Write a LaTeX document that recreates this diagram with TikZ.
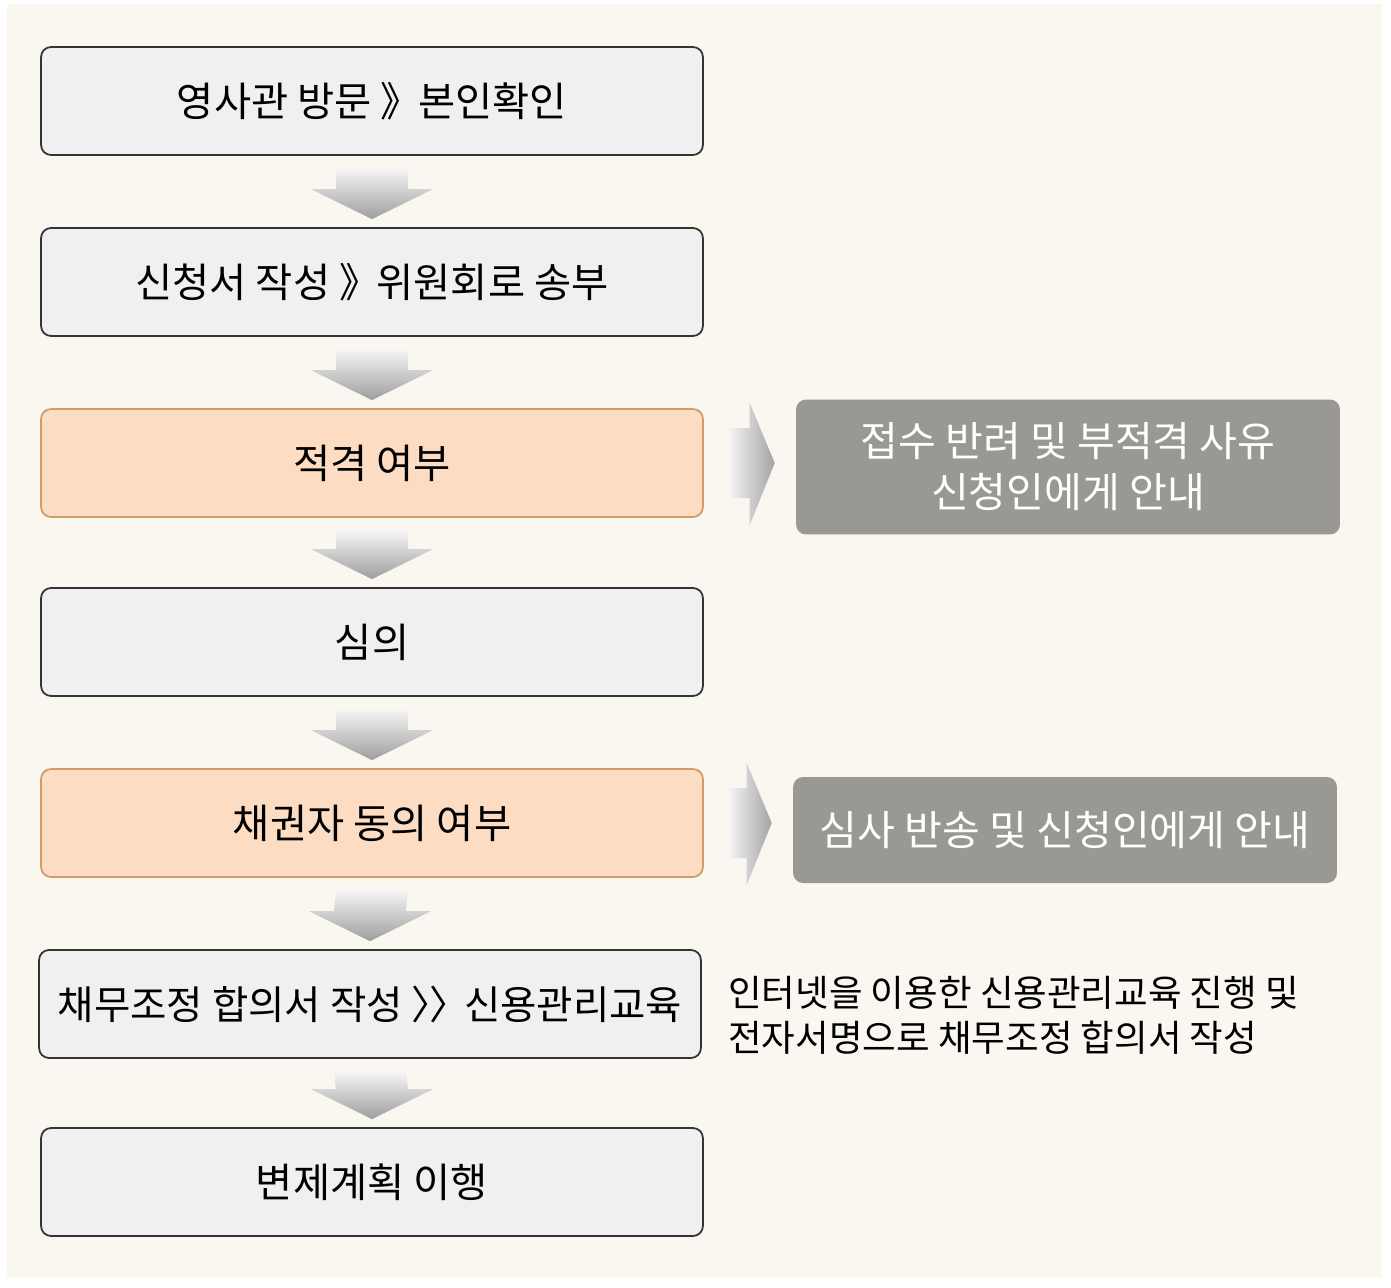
\documentclass[tikz,border=0pt]{standalone}
\usepackage{fontspec}
\setmainfont{Noto Sans CJK KR}
\usetikzlibrary{calc}
\definecolor{paper}{HTML}{FAF7F0}
\definecolor{boxgray}{HTML}{F0F0F0}
\definecolor{peach}{HTML}{FCDCC2}
\definecolor{peachline}{HTML}{D09A6A}
\definecolor{darkbox}{HTML}{999893}

\begin{document}
\begin{tikzpicture}[x=0.02cm, y=-0.02cm]
	\useasboundingbox (0,0) rectangle (1391,1287);
	\fill[paper] (7,4) rectangle (1382,1278);
	\tikzstyle{every node} = [font=\fontsize{23}{28}\selectfont, inner sep=0pt]
	\tikzstyle{stepbox} = [rectangle, rounded corners=0.2cm, draw=black!80, line width=1pt, fill=boxgray, minimum width=13.24cm, minimum height=2.16cm]
	\tikzstyle{checkbox} = [stepbox, draw=peachline, fill=peach]
	\tikzstyle{resultbox} = [rectangle, rounded corners=0.2cm, fill=darkbox, text=white, minimum width=10.88cm, align=center, font=\fontsize{23.4}{29}\selectfont]
	\tikzstyle{note} = [anchor=west, align=left, font=\fontsize{20.8}{25.5}\selectfont]
	\tikzstyle{fatdown} = [top color=white!96!black, bottom color=black!38]
	\tikzstyle{fatright} = [left color=white!96!black, right color=black!36]
	\node[stepbox] (1) at (372, 101) {영사관 방문 》\hspace{-0.3em} 본인확인};
	\node[stepbox] (2) at (372, 282) {신청서 작성 》\hspace{-0.3em} 위원회로 송부};
	\node[checkbox] (3) at (372, 463) {적격 여부};
	\node[stepbox] (4) at (372, 642) {심의};
	\node[checkbox] (5) at (372, 823) {채권자 동의 여부};
	\node[stepbox, font=\fontsize{22.5}{28}\selectfont] (6) at (370, 1004) {채무조정 합의서 작성 〉\hspace{-0.55em}〉\hspace{-0.35em} 신용관리교육};
	\node[stepbox] (7) at (372, 1182) {변제계획 이행};
	\node[resultbox, minimum height=2.7cm] (8) at (1068, 467) {접수 반려 및 부적격 사유\\신청인에게 안내};
	\node[resultbox, minimum height=2.12cm] (9) at (1065, 830) {심사 반송 및 신청인에게 안내};
	\node[note] (10) at (728, 1015) {인터넷을 이용한 신용관리교육 진행 및\\전자서명으로 채무조정 합의서 작성};
	\shade[fatdown] ($(1.south)+(-36,13)$) -- ($(1.south)+(36,13)$) -- ($(2.north)+(36,-38)$) -- ($(2.north)+(61,-38)$) -- ($(2.north)+(0,-8)$) -- ($(2.north)+(-61,-38)$) -- ($(2.north)+(-36,-38)$) -- cycle;
	\shade[fatdown] ($(2.south)+(-36,13)$) -- ($(2.south)+(36,13)$) -- ($(3.north)+(36,-38)$) -- ($(3.north)+(61,-38)$) -- ($(3.north)+(0,-8)$) -- ($(3.north)+(-61,-38)$) -- ($(3.north)+(-36,-38)$) -- cycle;
	\shade[fatdown] ($(3.south)+(-36,13)$) -- ($(3.south)+(36,13)$) -- ($(4.north)+(36,-38)$) -- ($(4.north)+(61,-38)$) -- ($(4.north)+(0,-8)$) -- ($(4.north)+(-61,-38)$) -- ($(4.north)+(-36,-38)$) -- cycle;
	\shade[fatdown] ($(4.south)+(-36,13)$) -- ($(4.south)+(36,13)$) -- ($(5.north)+(36,-38)$) -- ($(5.north)+(61,-38)$) -- ($(5.north)+(0,-8)$) -- ($(5.north)+(-61,-38)$) -- ($(5.north)+(-36,-38)$) -- cycle;
	\shade[fatdown] ($(5.south)+(-36,13)$) -- ($(5.south)+(36,13)$) -- ($(6.north)+(36,-38)$) -- ($(6.north)+(61,-38)$) -- ($(6.north)+(0,-8)$) -- ($(6.north)+(-61,-38)$) -- ($(6.north)+(-36,-38)$) -- cycle;
	\shade[fatdown] ($(6.south)+(-36,13)$) -- ($(6.south)+(36,13)$) -- ($(7.north)+(36,-38)$) -- ($(7.north)+(61,-38)$) -- ($(7.north)+(0,-8)$) -- ($(7.north)+(-61,-38)$) -- ($(7.north)+(-36,-38)$) -- cycle;
	\shade[fatright] ($(3.east)+(25,-35)$) -- ($(8.west |- 3.east)+(-46,-35)$) -- ($(8.west |- 3.east)+(-46,-60)$) -- ($(8.west |- 3.east)+(-21,0)$) -- ($(8.west |- 3.east)+(-46,62)$) -- ($(8.west |- 3.east)+(-46,35)$) -- ($(3.east)+(25,35)$) -- cycle;
	\shade[fatright] ($(5.east)+(25,-35)$) -- ($(9.west |- 5.east)+(-46,-35)$) -- ($(9.west |- 5.east)+(-46,-60)$) -- ($(9.west |- 5.east)+(-21,0)$) -- ($(9.west |- 5.east)+(-46,62)$) -- ($(9.west |- 5.east)+(-46,35)$) -- ($(5.east)+(25,35)$) -- cycle;
\end{tikzpicture}
\end{document}
